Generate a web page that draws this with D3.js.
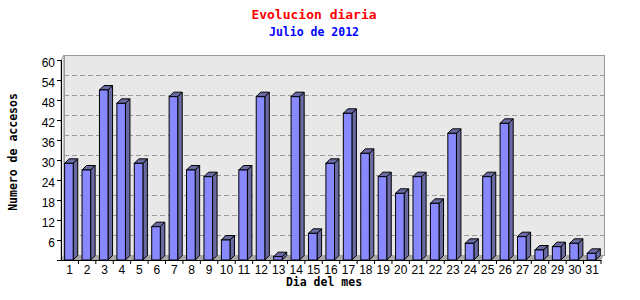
<!DOCTYPE html>
<html>
<head>
<meta charset="utf-8">
<script src="https://cdn.jsdelivr.net/npm/d3@7/dist/d3.min.js"></script>
<style>
  body { margin: 0; background: #fff; }
  svg { display: block; }
</style>
</head>
<body>
<div id="chart"></div>
<script>
var days = d3.range(1, 32).map(String);
var accesos = [29, 27, 51, 47, 29, 10, 49, 27, 25, 6, 27, 49, 1, 49, 8, 29, 44, 32, 25, 20, 25, 17, 38, 5, 25, 41, 7, 3, 4, 5, 2];
var yTicks = [6, 12, 18, 24, 30, 36, 42, 48, 54, 60];

var W = 640, H = 300;
var pLeft = 61, pRight = 601, pTop = 60, pBottom = 260;
var wallDx = 3, wallDy = 5;   // desplazamiento de la pared del fondo
var depth = 4.5;              // profundidad de las barras 3D
var barW = 8.6;

var svg = d3.select('#chart').append('svg')
    .attr('width', W)
    .attr('height', H);

var x = d3.scaleBand().domain(days).range([pLeft, pRight]);
var y = d3.scaleLinear().domain([0, 60]).range([pBottom, pTop]);

// pared del fondo
svg.append('rect')
    .attr('x', pLeft + wallDx + 0.5)
    .attr('y', pTop - wallDy + 0.5)
    .attr('width', pRight - pLeft)
    .attr('height', pBottom - pTop)
    .attr('fill', '#e8e8e8')
    .attr('stroke', '#999');

// lateral izquierdo
svg.append('polygon')
    .attr('points', [[pLeft, pTop], [pLeft + wallDx, pTop - wallDy], [pLeft + wallDx, pBottom - wallDy], [pLeft, pBottom]].join(' '))
    .attr('fill', '#e8e8e8')
    .attr('stroke', '#999');

// rejilla discontinua
svg.append('g').selectAll('line')
    .data(yTicks.slice(0, -1))
    .enter().append('line')
    .attr('x1', pLeft + wallDx)
    .attr('x2', pRight + wallDx)
    .attr('y1', function(d) { return Math.round(y(d) - wallDy) + 0.5; })
    .attr('y2', function(d) { return Math.round(y(d) - wallDy) + 0.5; })
    .attr('stroke', '#999')
    .attr('stroke-dasharray', '5,3');

// suelo
svg.append('polygon')
    .attr('points', [[pLeft, pBottom], [pLeft + wallDx, pBottom - wallDy], [pRight + wallDx, pBottom - wallDy], [pRight, pBottom]].join(' '))
    .attr('fill', '#a8a8a8');

// barras
var bars = svg.append('g').selectAll('g')
    .data(accesos)
    .enter().append('g');

function fx(i) { return x(days[i]) + x.bandwidth() / 2 - barW / 2 - 0.8; }

bars.append('polygon')   // lateral
    .attr('points', function(d, i) {
        var x1 = fx(i) + barW;
        return [[x1, y(d)], [x1 + depth, y(d) - depth], [x1 + depth, pBottom - depth], [x1, pBottom]].join(' ');
    })
    .attr('fill', '#6a6aa3')
    .attr('stroke', '#000')
    .attr('stroke-linejoin', 'round');

bars.append('polygon')   // tapa
    .attr('points', function(d, i) {
        var x0 = fx(i), x1 = x0 + barW;
        return [[x0, y(d)], [x0 + depth, y(d) - depth], [x1 + depth, y(d) - depth], [x1, y(d)]].join(' ');
    })
    .attr('fill', '#6a6aa3')
    .attr('stroke', '#000')
    .attr('stroke-linejoin', 'round');

bars.append('rect')      // frente
    .attr('x', function(d, i) { return fx(i); })
    .attr('y', function(d) { return y(d); })
    .attr('width', barW)
    .attr('height', function(d) { return pBottom - y(d); })
    .attr('fill', '#8888ff')
    .attr('stroke', '#000');

// ejes
var yAxis = svg.append('g')
    .attr('transform', 'translate(' + pLeft + ',0)')
    .call(d3.axisLeft(y).tickValues(yTicks).tickSize(4).tickPadding(4));
var xAxis = svg.append('g')
    .attr('transform', 'translate(0,' + pBottom + ')')
    .call(d3.axisBottom(x).tickSize(0).tickPadding(5));

xAxis.selectAll('.tick').append('line')
    .attr('x1', x.bandwidth() / 2)
    .attr('x2', x.bandwidth() / 2)
    .attr('y2', 4)
    .attr('stroke', '#000');

[yAxis, xAxis].forEach(function(a) {
    a.select('.domain').attr('stroke', '#000');
    a.selectAll('text')
        .style('font-family', '"Liberation Sans", Arial, sans-serif')
        .style('font-size', '12px')
        .attr('fill', '#000');
});
yAxis.selectAll('text').attr('dy', '0.55em').attr('x', -6);

// titulos
svg.append('text')
    .attr('x', 314)
    .attr('y', 19)
    .attr('text-anchor', 'middle')
    .style('font-family', '"DejaVu Sans Mono", monospace')
    .style('font-weight', 'bold')
    .style('font-size', '13px')
    .style('fill', '#ff0000')
    .text('Evolucion diaria');

svg.append('text')
    .attr('x', 314)
    .attr('y', 36)
    .attr('text-anchor', 'middle')
    .style('font-family', '"DejaVu Sans Mono", monospace')
    .style('font-weight', 'bold')
    .style('font-size', '11.5px')
    .style('fill', '#0000ff')
    .text('Julio de 2012');

svg.append('text')
    .attr('transform', 'translate(17,152) rotate(-90)')
    .attr('text-anchor', 'middle')
    .style('font-family', '"DejaVu Sans Mono", monospace')
    .style('font-weight', 'bold')
    .style('font-size', '11.5px')
    .style('fill', '#000')
    .text('Numero de accesos');

svg.append('text')
    .attr('x', 324)
    .attr('y', 286)
    .attr('text-anchor', 'middle')
    .style('font-family', '"DejaVu Sans Mono", monospace')
    .style('font-weight', 'bold')
    .style('font-size', '11.5px')
    .style('fill', '#000')
    .text('Dia del mes');
</script>
</body>
</html>
